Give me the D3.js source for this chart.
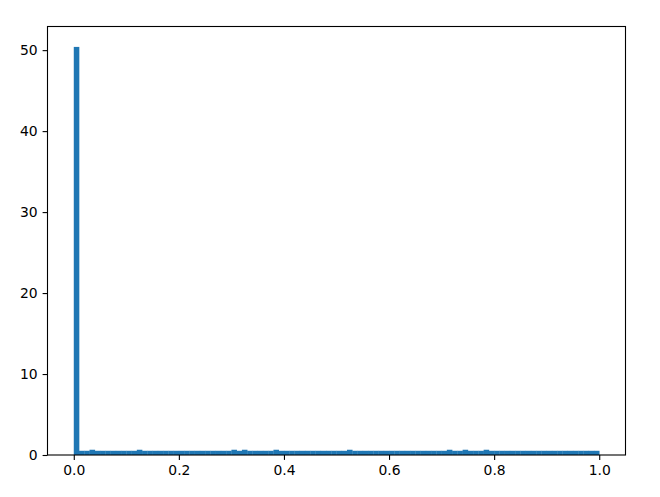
<!DOCTYPE html>
<html><head><meta charset="utf-8">
<script src="https://cdn.jsdelivr.net/npm/d3@7"></script>
<style>
html,body{margin:0;padding:0;background:#fff;}
svg{display:block;}
text{font-family:"DejaVu Sans",sans-serif;}
</style></head>
<body>
<svg id="chart" width="660" height="497"></svg>
<script>
// Histogram: 100 bins over [0,1]
const binEdgesStart = 0;
const binEdgesEnd = 1;
const binCount = 100;
const firstBinValue = 50.4;
const baseValue = 0.52;
const bumpBins = [3, 12, 30, 32, 38, 52, 71, 74, 78];
const bumpValue = 0.65;
const xTicks = [0.0, 0.2, 0.4, 0.6, 0.8, 1.0];
const yTicks = [0, 10, 20, 30, 40, 50];

const bins = d3.range(binCount).map(i => {
  const x0 = binEdgesStart + (binEdgesEnd - binEdgesStart) * i / binCount;
  const x1 = binEdgesStart + (binEdgesEnd - binEdgesStart) * (i + 1) / binCount;
  let v = baseValue;
  if (i === 0) v = firstBinValue;
  else if (bumpBins.includes(i)) v = bumpValue;
  return {x0, x1, v};
});

const svg = d3.select("#chart");
const L = 47.5, R = 625.5, T = 26.5, B = 455;
const x = d3.scaleLinear().domain([-0.05, 1.05]).range([L, R]);
const y = d3.scaleLinear().domain([0, firstBinValue * 1.05]).range([B, T]);

svg.append("g").selectAll("rect").data(bins).join("rect")
  .attr("x", d => x(d.x0))
  .attr("width", d => x(d.x1) - x(d.x0) + 0.3)
  .attr("y", d => y(d.v))
  .attr("height", d => y(0) - y(d.v))
  .attr("fill", "#1f77b4");

const fs = 13.9;
const xAxis = d3.axisBottom(x).tickValues(xTicks).tickFormat(d3.format(".1f")).tickSize(4.9).tickPadding(4.9);
const yAxis = d3.axisLeft(y).tickValues(yTicks).tickFormat(d3.format("d")).tickSize(4.9).tickPadding(4.9);

const gx = svg.append("g").attr("transform", `translate(0,${B})`).call(xAxis);
const gy = svg.append("g").attr("transform", `translate(${L},0)`).call(yAxis);
[gx, gy].forEach(g => {
  g.select(".domain").remove();
  g.selectAll(".tick line").attr("stroke", "#000").attr("stroke-width", 1.1);
  g.selectAll(".tick text").attr("fill", "#000").style("font-size", fs + "px").style("font-family", "DejaVu Sans");
});

svg.append("rect").attr("x", L).attr("y", T).attr("width", R - L).attr("height", B - T)
  .attr("fill", "none").attr("stroke", "#000").attr("stroke-width", 1.1);
</script>
</body></html>
